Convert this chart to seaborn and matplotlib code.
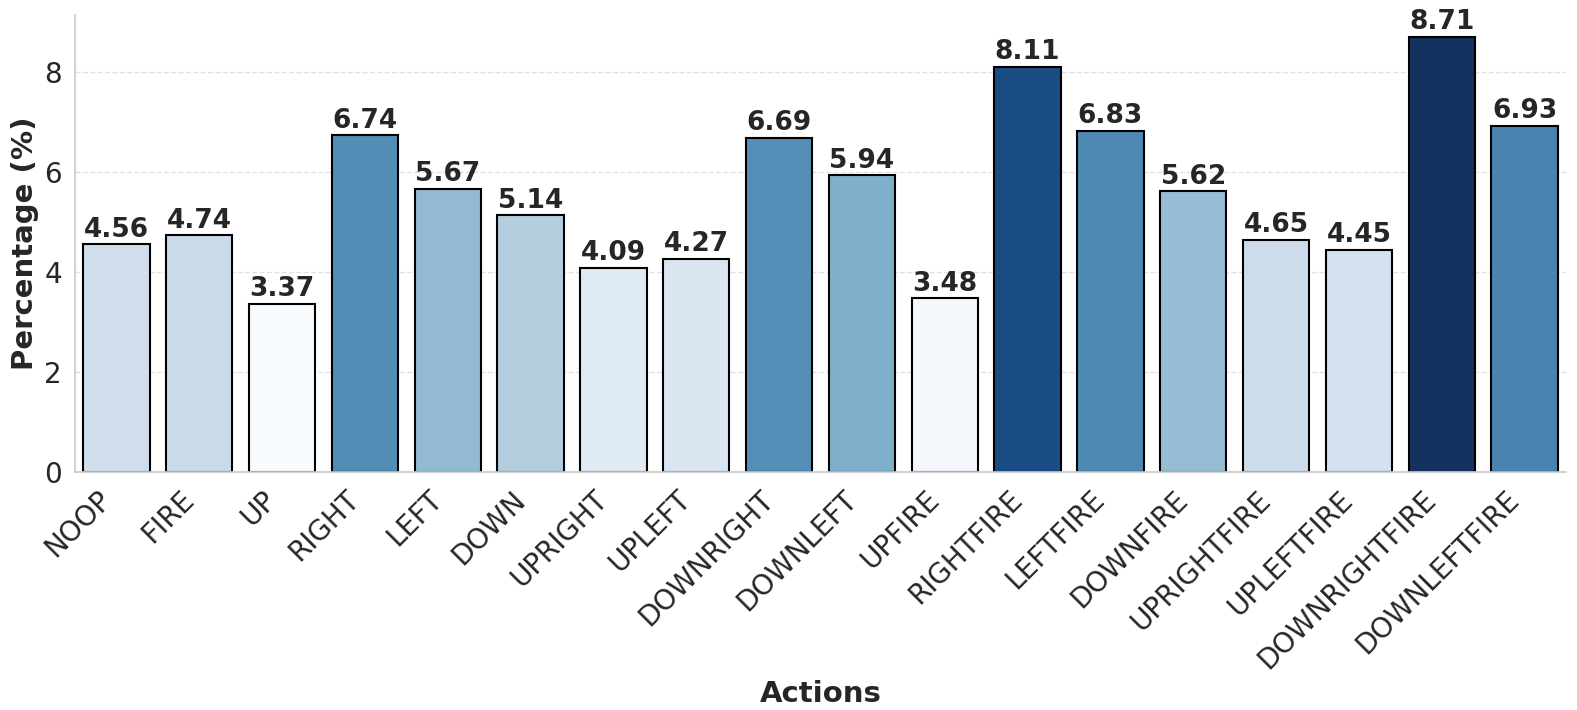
# Libraries
import numpy as np
import pandas as pd
import matplotlib
matplotlib.use("Agg")
import matplotlib.pyplot as plt
import seaborn as sns

# Data
actions = ["NOOP", "FIRE", "UP", "RIGHT", "LEFT", "DOWN", "UPRIGHT", "UPLEFT",
           "DOWNRIGHT", "DOWNLEFT", "UPFIRE", "RIGHTFIRE", "LEFTFIRE", "DOWNFIRE",
           "UPRIGHTFIRE", "UPLEFTFIRE", "DOWNRIGHTFIRE", "DOWNLEFTFIRE"]
percentages = [4.56, 4.74, 3.37, 6.74, 5.67, 5.14, 4.09, 4.27,
               6.69, 5.94, 3.48, 8.11, 6.83, 5.62, 4.65, 4.45, 8.71, 6.93]

df = pd.DataFrame({"Action": actions, "Percentage": percentages})

# Colours by value
norm = plt.Normalize(min(percentages), max(percentages))
colors = [plt.cm.Blues(norm(v)) for v in percentages]

sns.set_theme(style="whitegrid")

fig, ax = plt.subplots(figsize=(15.77, 7.1), dpi=100)
fig.subplots_adjust(left=0.0476, right=0.993, top=0.979, bottom=0.335)

sns.barplot(data=df, x="Action", y="Percentage", hue="Action", palette=colors,
            legend=False, edgecolor="black", linewidth=1.5, ax=ax)

for container in ax.containers:
    ax.bar_label(container, fmt="%.2f", fontsize=19, fontweight="bold",
                 padding=1, color="#262626")

ax.set_ylim(0, max(percentages) * 1.05)
ax.set_xlabel("Actions", fontsize=21, fontweight="bold")
ax.set_ylabel("Percentage (%)", fontsize=21, fontweight="bold")
ax.tick_params(axis="x", labelsize=20, rotation=45)
ax.tick_params(axis="y", labelsize=20)
for lbl in ax.get_xticklabels():
    lbl.set_ha("right")

ax.grid(axis="x", visible=False)
ax.grid(axis="y", linestyle="--", alpha=0.7, color="#d5d5d5")
sns.despine(ax=ax)

plt.savefig("out.png", dpi=100)
